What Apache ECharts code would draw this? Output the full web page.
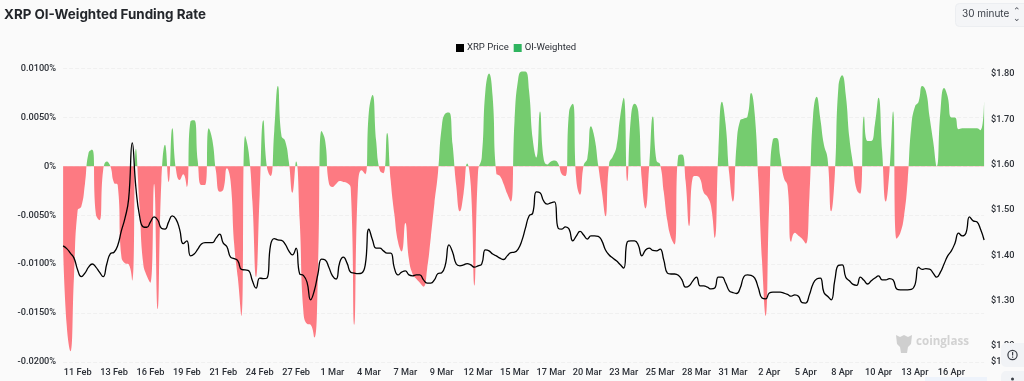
<!DOCTYPE html>
<html>
<head>
<meta charset="utf-8">
<title>XRP OI-Weighted Funding Rate</title>
<script src="https://cdn.jsdelivr.net/npm/echarts@6/dist/echarts.min.js"></script>
<style>
html, body { margin: 0; padding: 0; background: #fafafa; }
#container { width: 1024px; height: 381px; }
</style>
</head>
<body>
<div id="container"></div>
<script>
// one tick label every 10 samples (64 hours)
var tickLabels = ['11 Feb','13 Feb','16 Feb','19 Feb','21 Feb','24 Feb','27 Feb','1 Mar','4 Mar','7 Mar','9 Mar','12 Mar','15 Mar','17 Mar','20 Mar','23 Mar','25 Mar','28 Mar','31 Mar','2 Apr','5 Apr','8 Apr','10 Apr','13 Apr','16 Apr'];
var rightTicks = [1.165, 1.2, 1.3, 1.4, 1.5, 1.6, 1.7, 1.8];

// funding rate, in units of 0.0001%
var fundingRate = [
-82,-163,-189,-112,-45,-41,-18,14,17,-49,
-55,-4,5,0,-17,-19,-92,-99,-100,-117,
18,-41,-99,-112,-119,-18,-146,-15,22,-16,
39,-3,-14,-8,-21,46,47,5,-19,-19,
39,27,-5,-26,-24,-2,-15,-80,-114,-153,
31,14,-36,-113,-29,47,-1,-10,36,82,
31,26,5,-27,5,-56,-148,-161,-162,-175,
-112,36,26,-17,-21,-18,-15,-16,-17,-22,
-162,-20,-4,-8,56,73,26,-4,-7,34,
-15,-49,-77,-87,-58,-95,-110,-115,-119,-123,
-105,-73,-38,-6,40,54,55,22,-20,-46,
-28,3,-20,-122,-5,9,77,95,71,-7,
-10,-18,-28,-36,46,89,97,97,77,28,
9,56,8,2,5,6,3,-8,-10,56,
64,-15,-29,1,8,41,29,1,-26,-51,
3,10,20,50,70,-15,51,64,56,-15,
-43,0,51,6,2,-26,-56,-73,-80,11,
12,-15,-61,-11,-10,-13,-27,-31,-41,-73,
15,66,43,-8,-36,22,47,49,51,75,
53,-15,-97,-153,-36,28,29,10,-12,-20,
-77,-68,-71,-74,-79,-32,51,71,49,22,
8,-46,-8,82,93,73,29,2,-24,-28,
51,26,26,43,70,15,-36,-5,56,-74,
-68,-51,-15,41,61,66,82,77,51,26,
0,56,80,71,50,50,38,39,39,39,
39,39,37,67
];

var priceCents = [
142.1,141.5,140.5,139.4,136.8,135.3,136.1,137.4,138.1,137.4,
136.3,135.3,138.1,140.4,140.7,142.2,145.4,148.2,152.4,164.8,
154.9,148.7,146.3,146.2,147.4,148.5,147.8,146,145.8,147.4,
148.7,148,145.8,142.6,143.2,139.9,140.3,141.4,142.5,142.8,
142.8,142.8,143.8,144.7,142.7,141.9,139.6,139.3,138.8,136.9,
136.8,136.6,134.4,132.8,135,134.9,135,142.3,143.7,143.4,
143.3,142.5,141,140.1,141.6,135.9,135.6,134.1,130.2,132.2,
135.9,139.2,139,137.4,135.5,134.8,138.5,139.6,138.3,136.3,
136.1,136,136.1,137.9,145.8,143.4,141.6,141.6,141,140.5,
140.5,137.2,135.7,136.3,136.6,135.7,135.5,135.7,135.7,134.6,
133.9,133.9,134.6,136,136.2,137.9,142.3,140.7,138.1,137.7,
137.9,138.2,137.9,137.4,137.7,138.1,141.2,141,140.3,139.9,
139.4,139.1,139.9,140.6,140.7,141.4,143.2,146,148.7,149.3,
154,153.8,152,151.3,151.6,151.8,146,145.8,146.3,145.8,
143.2,144.3,145.3,144.5,143.6,144.3,144.3,144.2,143.2,141.2,
140.1,139.4,138.8,138,137.2,143,143.2,143.2,142.3,139.9,
141.2,141.6,141.1,141,141.4,139,136.1,135.9,135.9,135.6,
134.6,133,133.3,134.4,135.2,133.3,133.3,133,132.6,132.8,
135.2,135.2,133.9,132.2,131.8,131.6,132.8,135.3,135.7,135.6,
135,132.8,130.6,130.4,131.7,131.9,131.9,131.9,131.7,131.4,
131,131.3,131,129.6,129.5,131.3,133.7,134.8,135,131.8,
131,130.2,134.6,137.8,137.9,135.2,134.4,133.6,133.4,135.2,
134.5,133.7,134.4,135,135.5,134.6,134.6,134.9,134.6,132.6,
132.4,132.4,132.4,132.5,133.5,137.4,136.9,137.1,137,136.1,
135.2,136.3,138.1,139.9,141,142.7,144.9,144.3,144.9,148.5,
147.6,147.4,145.8,143.4
];

var categories = [];
for (var i = 0; i < fundingRate.length; ++i) {
	categories[i] = (i - 4) % 10 == 0 && tickLabels[(i - 4) / 10] ? tickLabels[(i - 4) / 10] : '';
}
var priceDollars = priceCents.map(function(c) { return c / 100; });

var gridLine = { show: true, lineStyle: { color: '#f0f0f0', type: 'dashed', width: 1 } };
var axisFont = { color: '#2b2f36', fontSize: 9.2, fontWeight: 500, fontFamily: 'Roboto' };

var myChart = echarts.init(document.getElementById('container'), null, { renderer: 'canvas' });
var option = {
	backgroundColor: '#fafafa',
	animation: false,
	title: {
		text: 'XRP OI-Weighted Funding Rate',
		left: -1,
		top: 3,
		textStyle: { fontSize: 13.4, fontWeight: 700, color: '#23262b', fontFamily: 'Inter' }
	},
	legend: {
		top: 38,
		left: 451,
		itemWidth: 8,
		itemHeight: 8,
		itemGap: 5,
		textStyle: { fontSize: 9.5, color: '#2b2f36', fontFamily: 'Roboto', padding: [0, 0, 0, -2] },
		data: [
			{ name: 'XRP Price', icon: 'rect', itemStyle: { color: '#000000' } },
			{ name: 'OI-Weighted', icon: 'rect', itemStyle: { color: '#2fb45f' } }
		]
	},
	visualMap: {
		show: false,
		seriesIndex: 1,
		dimension: 1,
		pieces: [
			{ gte: -220, lte: 0, color: '#fd7a82' },
			{ gt: 0, lte: 120, color: '#75cc6f' }
		]
	},
	grid: { left: 63.1, top: 68.5, width: 921, height: 293.5 },
	xAxis: {
		type: 'category',
		boundaryGap: false,
		data: categories,
		axisLine: { show: false },
		axisTick: { show: false },
		splitLine: { show: false },
		axisLabel: Object.assign({ interval: function(idx, val) { return val !== ''; }, margin: 6 }, axisFont)
	},
	yAxis: [
		{
			type: 'value',
			min: -200,
			max: 100,
			interval: 50,
			axisLine: { show: false },
			axisTick: { show: false },
			splitLine: gridLine,
			axisLabel: Object.assign({
				margin: 7,
				formatter: function(v) { return v == 0 ? '0%' : (v / 10000).toFixed(4) + '%'; }
			}, axisFont)
		},
		{
			type: 'value',
			position: 'right',
			min: 1.165,
			max: 1.812,
			axisLine: { show: false },
			axisTick: { show: false },
			splitLine: { show: false },
			axisLabel: Object.assign({
				customValues: rightTicks,
				margin: 7,
				formatter: function(v) { return '$' + v.toFixed(2); }
			}, axisFont)
		}
	],
	series: [
		{
			name: 'XRP Price',
			type: 'line',
			yAxisIndex: 1,
			z: 3,
			data: priceDollars,
			smooth: 0.5,
			showSymbol: false,
			itemStyle: { color: '#000000' },
			lineStyle: { color: '#000000', width: 1.3 }
		},
		{
			name: 'OI-Weighted',
			type: 'line',
			yAxisIndex: 0,
			z: 2,
			data: fundingRate,
			smooth: 0.5,
			showSymbol: false,
			itemStyle: { color: '#2fb45f' },
			lineStyle: { width: 0 },
			areaStyle: { opacity: 1 }
		}
	],
	graphic: [
		// period selector
		{ type: 'rect', shape: { x: 955.5, y: 3.5, width: 80, height: 23, r: 4 }, style: { fill: '#f4f5f7', stroke: '#eceef1' }, z: 10 },
		{ type: 'text', x: 962, y: 9, style: { text: '30 minute', font: '10px Inter', fill: '#3a3f47' }, z: 11 },
		{ type: 'text', x: 1013, y: 7, style: { text: '\u2303', font: '9px "DejaVu Sans"', fill: '#4a4f57' }, z: 11 },
		{ type: 'text', x: 1013, y: 14, style: { text: '\u2304', font: '9px "DejaVu Sans"', fill: '#4a4f57' }, z: 11 },
		// watermark
		{ type: 'polygon', shape: { points: [[896,335],[900,337],[904,335],[908,337],[912,335],[911,344],[908,347],[907,353],[901,353],[900,347],[897,344]] }, style: { fill: '#cfcfcf' }, z: 10 },
		{ type: 'text', x: 916, y: 336, style: { text: 'coinglass', font: 'bold 11.6px "Open Sans"', fill: '#d2d2d2' }, z: 10 },
		// side buttons over the axis
		{ type: 'rect', shape: { x: 1001, y: 343, width: 30, height: 24, r: 5 }, style: { fill: '#f1f3f6' }, z: 12 },
		{ type: 'circle', shape: { cx: 1012.5, cy: 355, r: 4.6 }, style: { fill: 'none', stroke: '#3a3f47', lineWidth: 1.2 }, z: 13 },
		{ type: 'rect', shape: { x: 1012, y: 352, width: 1.2, height: 3.4 }, style: { fill: '#3a3f47' }, z: 13 },
		{ type: 'rect', shape: { x: 1012, y: 356.6, width: 1.2, height: 1.2 }, style: { fill: '#3a3f47' }, z: 13 },
		{ type: 'rect', shape: { x: 1001, y: 371, width: 30, height: 24, r: 5 }, style: { fill: '#f1f3f6' }, z: 12 },
		{ type: 'circle', shape: { cx: 1012.5, cy: 379, r: 1.5 }, style: { fill: '#3a3f47' }, z: 13 },
		{ type: 'rect', shape: { x: 925, y: 377, width: 62, height: 6 }, style: { fill: '#eef3fb' }, z: 12 }
	]
};
myChart.setOption(option);
</script>
</body>
</html>
